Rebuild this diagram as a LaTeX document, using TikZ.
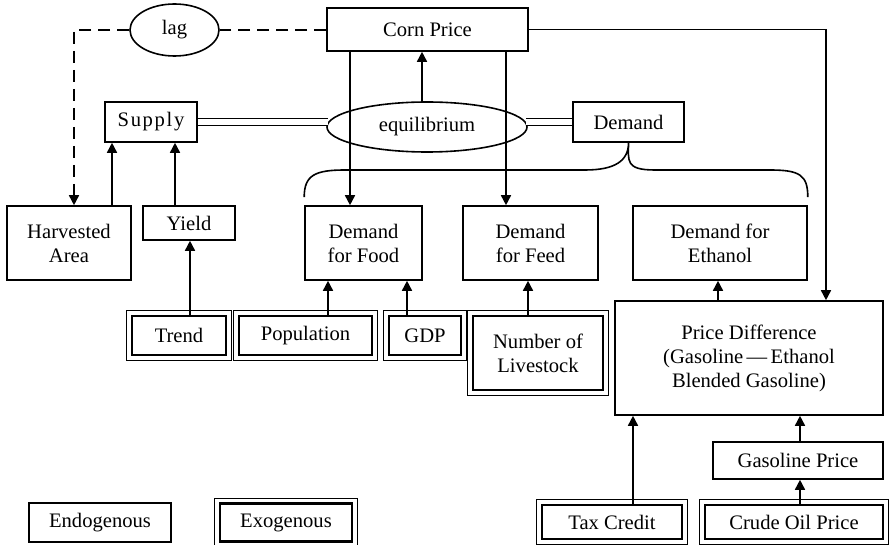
\documentclass[tikz,border=0pt]{standalone}
\usepackage{fontspec}
\setmainfont{Liberation Serif}
\usetikzlibrary{shapes.geometric,arrows.meta}

\tikzstyle{endobox}=[draw,line width=0.8pt,rectangle,align=center,inner sep=0pt]
\tikzstyle{exobox}=[draw,line width=1.3pt,rectangle,align=center,inner sep=0pt]
\tikzstyle{outerframe}=[draw,line width=0.5pt]
\tikzstyle{oval}=[draw,line width=0.8pt,ellipse,inner sep=0pt]
\tikzstyle{arr}=[draw,line width=0.8pt,-{Triangle[length=5pt,width=5pt]}]
\tikzstyle{eqlink}=[draw,line width=0.7pt,double,double distance=2.8pt]
\tikzstyle{lagline}=[draw,line width=0.8pt,dash pattern=on 6pt off 3.5pt]
\tikzstyle{demandbrace}=[draw,line width=0.8pt]
\newcommand{\px}{0.5pt}

\begin{document}
\begin{tikzpicture}[x=\px, y=-\px, font=\fontsize{10.3}{12}\selectfont]
    \useasboundingbox (0,0) rectangle (889,545);
    % First the endogenous boxes and the two ovals
    \node[endobox, minimum width=100.5pt, minimum height=21.5pt] (corn) at (427.5,29.5) {Corn Price};
    \node[oval, minimum width=44.5pt, minimum height=26pt] (lag) at (174.5,30) {lag};
    \node[oval, minimum width=100pt, minimum height=25pt] (equil) at (427,127) {equilibrium};
    \node[endobox, minimum width=46pt, minimum height=20pt] (supply) at (151,122) {\addfontfeature{LetterSpace=8}Supply};
    \node[endobox, minimum width=55.5pt, minimum height=20pt] (demand) at (628.5,122) {Demand};
    \node[endobox, minimum width=62pt, minimum height=37pt] (harv) at (69,243) {Harvested\\Area};
    \node[endobox, minimum width=46pt, minimum height=17pt] (yield) at (189,223) {Yield};
    \node[endobox, minimum width=58.5pt, minimum height=37pt] (food) at (363.5,243) {Demand\\for Food};
    \node[endobox, minimum width=67.5pt, minimum height=37pt] (feed) at (530.5,243) {Demand\\for Feed};
    \node[endobox, minimum width=87pt, minimum height=37pt] (eth) at (720,243) {Demand for\\Ethanol};
    \node[endobox, minimum width=134pt, minimum height=57pt] (pdiff) at (749,358)
        {Price Difference\\(Gasoline\,—\,Ethanol\\Blended Gasoline)};
    \node[endobox, minimum width=85pt, minimum height=18.5pt] (gas) at (798,460.5) {Gasoline Price};
    \node[endobox, minimum width=71pt, minimum height=19.5pt] (endokey) at (100,522.5) {Endogenous};
    % Exogenous boxes get a thin outer frame
    \node[exobox, minimum width=47pt, minimum height=19.5pt] (trend) at (179,335.5) {Trend};
    \node[exobox, minimum width=66.5pt, minimum height=19.5pt] (pop) at (305.5,335.5) {Population};
    \node[exobox, minimum width=36pt, minimum height=19.5pt] (gdp) at (425,335.5) {GDP};
    \node[exobox, minimum width=65pt, minimum height=37pt] (live) at (538,353) {Number of\\Livestock};
    \node[exobox, minimum width=66pt, minimum height=19pt] (exokey) at (286,522.5) {Exogenous};
    \node[exobox, minimum width=70pt, minimum height=17pt] (tax) at (612,522) {Tax Credit};
    \node[exobox, minimum width=89pt, minimum height=17pt] (crude) at (794,522) {Crude Oil Price};
    \foreach \n in {trend,pop,gdp,live,exokey,tax,crude}
        \path[outerframe] ([shift={(-2pt,2pt)}]\n.north west) rectangle ([shift={(2pt,-2pt)}]\n.south east);
    % Upward arrows from causes to effects
    \foreach \src/\dst/\x in {harv/supply/112, yield/supply/175, trend/yield/190, pop/food/328,
                              gdp/food/407, live/feed/528, pdiff/eth/718, tax/pdiff/633,
                              gas/pdiff/800, crude/gas/800, equil/corn/422}
        \path[arr] (\src.north -| \x,0) -- (\dst.south -| \x,0);
    % Corn price feeds back down
    \foreach \dst/\x in {food/350, feed/506}
        \path[arr] (corn.south -| \x,0) -- (\dst.north -| \x,0);
    \path[arr] (corn.east) -| (pdiff.north -| 826,0);
    % Lagged effect on harvested area
    \coordinate (lagc) at (74,30);
    \path[lagline] (corn.west |- lag) -- (lag.east);
    \path[lagline, -{Triangle[length=5pt,width=5pt]}] (lag.west) -- (lagc) -- (lagc |- harv.north);
    % Supply and demand meet in equilibrium
    \path[eqlink] (supply.east) -- (supply.east -| equil.177);
    \path[eqlink] (demand.west) -- (demand.west -| equil.3);
    % Demand splits into three uses
    \path[demandbrace] ([yshift=4pt]food.north west) .. controls +(0,-22) and +(-30,0) .. (345,170)
        -- (585,170) .. controls +(30,0) and +(0,18) .. (demand.south)
        .. controls +(0,18) and +(-30,0) .. (655,170)
        -- (770,170) .. controls +(30,0) and +(0,-22) .. ([yshift=4pt]eth.north east);
\end{tikzpicture}
\end{document}
